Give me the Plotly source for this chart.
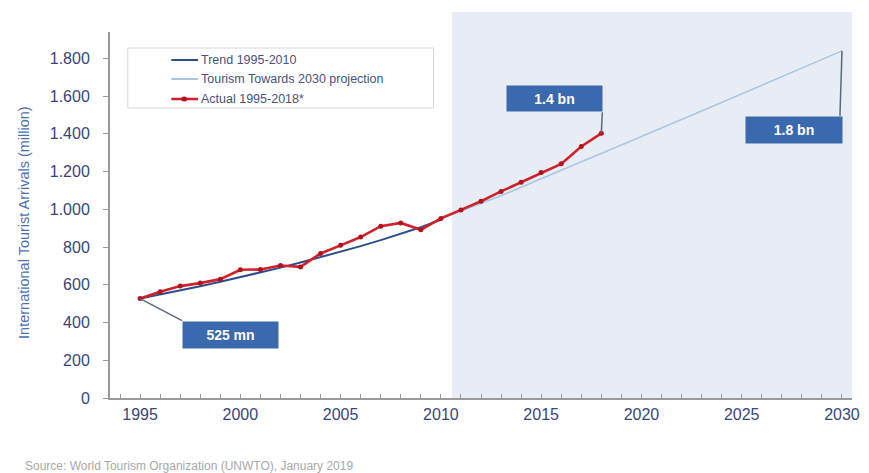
import plotly.graph_objects as go

# ---------------- data ----------------
actual_years = list(range(1995, 2019))
actual_values = [527, 563, 593, 609, 630, 680, 681, 702, 695, 766, 809, 853,
                 911, 928, 892, 952, 997, 1043, 1095, 1143, 1195, 1241, 1333, 1403]

trend_years = list(range(1995, 2011))
trend_values = [527, 548, 570, 592, 616, 640, 665, 691, 718, 746, 775, 805,
                837, 870, 905, 945]

proj_years = list(range(2010, 2031))
proj_values = [950, 990, 1030, 1072, 1117, 1163, 1207, 1252, 1296, 1342, 1388,
               1432, 1476, 1521, 1566, 1611, 1656, 1701, 1747, 1793, 1840]

x_tick_vals = [1995, 2000, 2005, 2010, 2015, 2020, 2025, 2030]
y_tick_vals = [0, 200, 400, 600, 800, 1000, 1200, 1400, 1600, 1800]
y_tick_text = ["0", "200", "400", "600", "800", "1.000", "1.200", "1.400", "1.600", "1.800"]

legend_names = ["Trend 1995-2010", "Tourism Towards 2030 projection", "Actual 1995-2018*"]
y_title = "International Tourist Arrivals (million)"
source_text = "Source: World Tourism Organization (UNWTO), January 2019"

# ---------------- style ----------------
FONT = "Arial, Liberation Sans, sans-serif"
C_TREND = "#2E4C8C"
C_PROJ = "#A9C7E0"
C_ACT = "#D0202A"
C_TICK = "#38457A"
C_BOX = "#3A69AE"
C_SHADE = "#E8EDF5"
C_AXIS = "#9A9A9A"

fig = go.Figure()

fig.add_trace(go.Scatter(x=proj_years, y=proj_values, mode="lines",
                         line=dict(color=C_PROJ, width=1.6), name=legend_names[1]))
fig.add_trace(go.Scatter(x=trend_years, y=trend_values, mode="lines",
                         line=dict(color=C_TREND, width=2), name=legend_names[0]))
fig.add_trace(go.Scatter(x=actual_years, y=actual_values, mode="lines+markers",
                         line=dict(color=C_ACT, width=2.6),
                         marker=dict(color="#B0141E", size=5),
                         name=legend_names[2]))

# plot area pixel mapping helpers (for legend placement in paper coords)
L, R, T, B = 110, 9, 32, 75
W, H = 869, 473
pw, ph = W - L - R, H - T - B


def px(xp):
    return (xp - L) / pw


def py(yp):
    return (H - B - yp) / ph


shapes = []
# shaded projection region
shapes.append(dict(type="rect", xref="x", yref="paper", x0=2010.55, x1=2030.5,
                   y0=0, y1=py(12), fillcolor=C_SHADE, line=dict(width=0), layer="below"))

# legend box
shapes.append(dict(type="rect", xref="paper", yref="paper", x0=px(128), x1=px(437),
                   y0=py(108), y1=py(48), fillcolor="white",
                   line=dict(color="#D8D8D8", width=1)))
rows = [60, 79, 99]
cols = [C_TREND, C_PROJ, C_ACT]
widths = [2, 2, 2.5]
annotations = []
for r, c, w, name in zip(rows, cols, widths, legend_names):
    shapes.append(dict(type="line", xref="paper", yref="paper", x0=px(172), x1=px(199),
                       y0=py(r), y1=py(r), line=dict(color=c, width=w)))
    annotations.append(dict(xref="paper", yref="paper", x=px(200), y=py(r), text=name,
                            showarrow=False, xanchor="left", yanchor="middle",
                            font=dict(family=FONT, size=12.5, color="#4A5278")))
shapes.append(dict(type="circle", xref="paper", yref="paper",
                   xsizemode="pixel", ysizemode="pixel",
                   xanchor=px(185), yanchor=py(99), x0=-3, x1=3, y0=-2.5, y1=2.5,
                   fillcolor="#B0141E", line=dict(width=0)))

# leader lines (pixel offsets from data points)
shapes.append(dict(type="line", xref="x", yref="y", xsizemode="pixel", ysizemode="pixel",
                   xanchor=actual_years[0], yanchor=actual_values[0],
                   x0=0, y0=0, x1=42, y1=-22, line=dict(color="#5A6A7A", width=1.5)))
shapes.append(dict(type="line", xref="x", yref="y", xsizemode="pixel", ysizemode="pixel",
                   xanchor=actual_years[-1], yanchor=actual_values[-1],
                   x0=0, y0=0, x1=1, y1=21, line=dict(color="#5A6A7A", width=1.5)))
shapes.append(dict(type="line", xref="x", yref="y", xsizemode="pixel", ysizemode="pixel",
                   xanchor=proj_years[-1], yanchor=proj_values[-1],
                   x0=0, y0=0, x1=-2, y1=-65, line=dict(color="#5A6A7A", width=1.5)))

box_font = dict(family=FONT, size=14, color="white")
annotations.append(dict(xref="x", yref="y", x=actual_years[0], y=actual_values[0],
                        xshift=42, yshift=-22, xanchor="left", yanchor="top",
                        text="<b>525 mn</b>", showarrow=False, bgcolor=C_BOX,
                        width=95, height=26, borderpad=0, font=box_font))
annotations.append(dict(xref="x", yref="y", x=actual_years[-1], y=actual_values[-1],
                        xshift=2, yshift=21, xanchor="right", yanchor="bottom",
                        text="<b>1.4 bn</b>", showarrow=False, bgcolor=C_BOX,
                        width=95, height=25, borderpad=0, font=box_font))
annotations.append(dict(xref="x", yref="y", x=proj_years[-1], y=proj_values[-1],
                        xshift=1, yshift=-65, xanchor="right", yanchor="top",
                        text="<b>1.8 bn</b>", showarrow=False, bgcolor=C_BOX,
                        width=96, height=26, borderpad=0, font=box_font))

# y-axis title (rotated) and source
annotations.append(dict(xref="paper", yref="paper", x=px(23), y=py(222), text=y_title,
                        textangle=-90, showarrow=False, xanchor="center", yanchor="middle",
                        font=dict(family=FONT, size=14.5, color="#4A72B0")))
annotations.append(dict(xref="paper", yref="paper", x=px(22), y=py(466), text=source_text,
                        showarrow=False, xanchor="left", yanchor="middle",
                        font=dict(family=FONT, size=12, color="#A8A8A8")))

fig.update_layout(
    width=W, height=H,
    margin=dict(l=L, r=R, t=T, b=B),
    paper_bgcolor="white", plot_bgcolor="white",
    showlegend=False,
    shapes=shapes, annotations=annotations,
    font=dict(family=FONT),
)
fig.update_xaxes(range=[1993.5, 2030.5], tickvals=x_tick_vals, showgrid=False, zeroline=False,
                 showline=True, linecolor=C_AXIS, linewidth=2,
                 ticks="inside", ticklen=4, tickcolor=C_AXIS, tickwidth=1,
                 minor=dict(dtick=1, tick0=1995, ticks="inside", ticklen=4, tickcolor=C_AXIS,
                            showgrid=False),
                 tickfont=dict(family=FONT, size=16, color=C_TICK), ticklabelstandoff=1)
fig.update_yaxes(range=[0, 1940], tickvals=y_tick_vals, ticktext=y_tick_text, showgrid=False,
                 zeroline=False, showline=True, linecolor=C_AXIS, linewidth=2,
                 ticks="outside", ticklen=5, tickcolor=C_AXIS,
                 tickfont=dict(family=FONT, size=16, color=C_TICK), ticklabelstandoff=10)

fig.write_html("out.html")
